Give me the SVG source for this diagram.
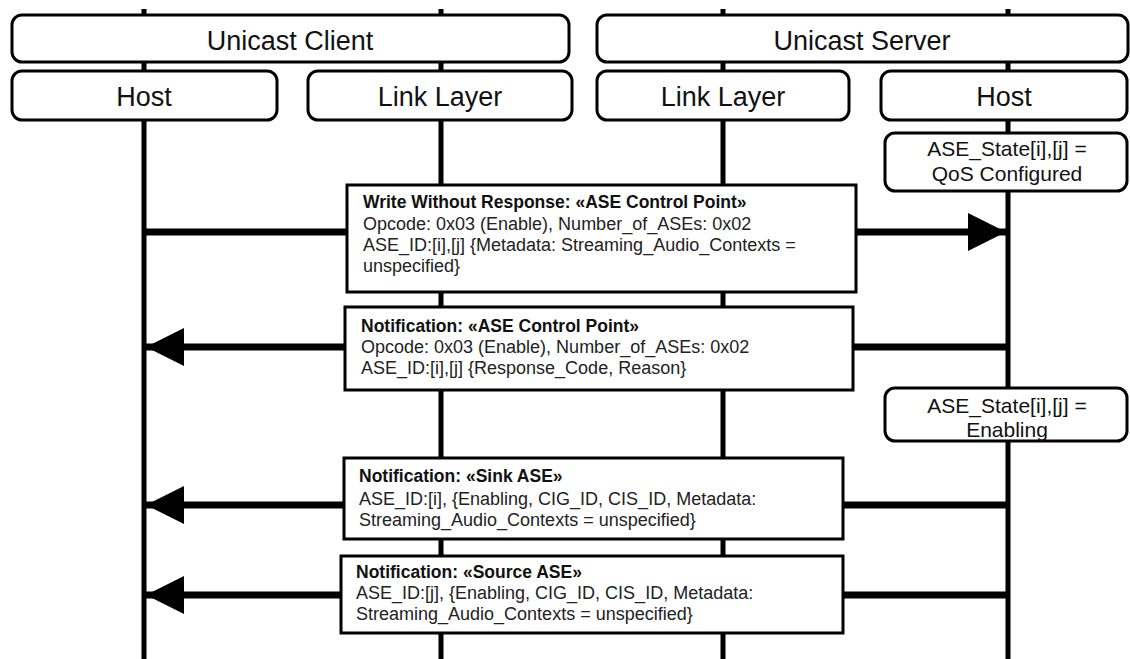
<svg xmlns="http://www.w3.org/2000/svg" width="1130" height="659" viewBox="0 0 1130 659">
<defs>
<style>
.life{stroke:#000;stroke-width:5;fill:none}
.hdr{fill:#fff;stroke:#000;stroke-width:3}
.msg{fill:#fff;stroke:#000;stroke-width:3}
.conn{stroke:#000;stroke-width:7;fill:none}
.ht{font-family:"Liberation Sans",Arial,sans-serif;font-size:27px;fill:#111;text-anchor:middle}
.st{font-family:"Liberation Sans",Arial,sans-serif;font-size:21px;fill:#111;text-anchor:middle}
.mb{font-family:"Liberation Sans",Arial,sans-serif;font-size:17.5px;font-weight:bold;fill:#111}
.mt{font-family:"Liberation Sans",Arial,sans-serif;font-size:18px;fill:#222}
</style>
<marker id="arr" markerUnits="userSpaceOnUse" markerWidth="38" markerHeight="38" refX="38" refY="19" orient="auto" viewBox="0 0 38 38">
<path d="M0,0 L38,19 L0,38 Z" fill="#000"/>
</marker>
</defs>
<rect width="1130" height="659" fill="#fff"/>
<g id="lifelines">
<line class="life" x1="144" y1="9" x2="144" y2="659"/>
<line class="life" x1="441" y1="9" x2="441" y2="659"/>
<line class="life" x1="723" y1="9" x2="723" y2="659"/>
<line class="life" x1="1008" y1="9" x2="1008" y2="659"/>
</g>
<g id="connectors">
<line class="conn" x1="144" y1="232" x2="1006" y2="232" marker-end="url(#arr)"/>
<line class="conn" x1="1008" y1="347" x2="146" y2="347" marker-end="url(#arr)"/>
<line class="conn" x1="1008" y1="505" x2="146" y2="505" marker-end="url(#arr)"/>
<line class="conn" x1="1008" y1="595" x2="146" y2="595" marker-end="url(#arr)"/>
</g>
<g id="unicast-client">
<rect class="hdr" x="12" y="15" width="557" height="47" rx="10"/>
<text class="ht" x="290" y="50">Unicast Client</text>
</g>
<g id="unicast-server">
<rect class="hdr" x="597" y="15" width="531" height="47" rx="10"/>
<text class="ht" x="862" y="50">Unicast Server</text>
</g>
<g id="client-host">
<rect class="hdr" x="12" y="71" width="265" height="49" rx="10"/>
<text class="ht" x="144" y="106">Host</text>
</g>
<g id="client-link-layer">
<rect class="hdr" x="308" y="71" width="264" height="49" rx="10"/>
<text class="ht" x="440" y="106">Link Layer</text>
</g>
<g id="server-link-layer">
<rect class="hdr" x="597" y="71" width="252" height="49" rx="10"/>
<text class="ht" x="723" y="106">Link Layer</text>
</g>
<g id="server-host">
<rect class="hdr" x="881" y="71" width="246" height="49" rx="10"/>
<text class="ht" x="1004" y="106">Host</text>
</g>
<g id="state-qos">
<rect class="hdr" x="885" y="133" width="242" height="58" rx="10"/>
<text class="st" x="1007" y="156">ASE_State[i],[j] =</text>
<text class="st" x="1007" y="181">QoS Configured</text>
</g>
<g id="state-enabling">
<rect class="hdr" x="885" y="388" width="242" height="53" rx="10"/>
<text class="st" x="1007" y="413">ASE_State[i],[j] =</text>
<text class="st" x="1007" y="437">Enabling</text>
</g>
<g id="msg-write">
<rect class="msg" x="347" y="185" width="509" height="107"/>
<text class="mb" x="363" y="208">Write Without Response: «ASE Control Point»</text>
<text class="mt" x="363" y="230">Opcode: 0x03 (Enable), Number_of_ASEs: 0x02</text>
<text class="mt" x="363" y="251">ASE_ID:[i],[j] {Metadata: Streaming_Audio_Contexts =</text>
<text class="mt" x="363" y="272">unspecified}</text>
</g>
<g id="msg-notify-cp">
<rect class="msg" x="345" y="307" width="508" height="83"/>
<text class="mb" x="361" y="332">Notification: «ASE Control Point»</text>
<text class="mt" x="361" y="353">Opcode: 0x03 (Enable), Number_of_ASEs: 0x02</text>
<text class="mt" x="361" y="374">ASE_ID:[i],[j] {Response_Code, Reason}</text>
</g>
<g id="msg-notify-sink">
<rect class="msg" x="344" y="458" width="499" height="81"/>
<text class="mb" x="359" y="482">Notification: «Sink ASE»</text>
<text class="mt" x="359" y="505">ASE_ID:[i], {Enabling, CIG_ID, CIS_ID, Metadata:</text>
<text class="mt" x="359" y="526">Streaming_Audio_Contexts = unspecified}</text>
</g>
<g id="msg-notify-source">
<rect class="msg" x="341" y="556" width="502" height="77"/>
<text class="mb" x="356" y="578">Notification: «Source ASE»</text>
<text class="mt" x="356" y="599">ASE_ID:[j], {Enabling, CIG_ID, CIS_ID, Metadata:</text>
<text class="mt" x="356" y="620">Streaming_Audio_Contexts = unspecified}</text>
</g>
</svg>
